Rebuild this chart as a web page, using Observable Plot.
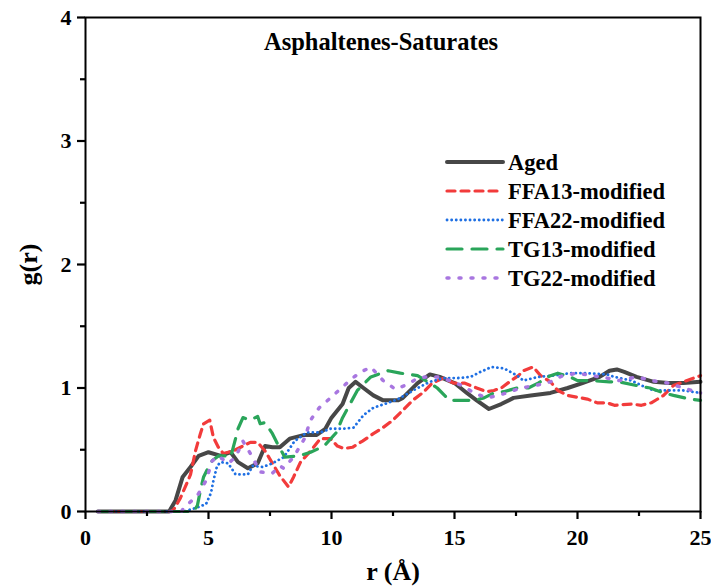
<!DOCTYPE html>
<html><head><meta charset="utf-8">
<script src="https://cdn.jsdelivr.net/npm/d3@7"></script>
<script src="https://cdn.jsdelivr.net/npm/@observablehq/plot@0.6"></script>
<style>
body{margin:0;background:#fff}
#wrap{position:relative;width:711px;height:588px}
#wrap svg{font-family:"Liberation Serif","Times New Roman",serif;font-weight:bold}
</style>
</head><body><div id="wrap"></div>
<script>
const title = "Asphaltenes-Saturates";
const xLabel = "r (Å)";
const yLabel = "g(r)";
const xTicks = [0, 5, 10, 15, 20, 25];
const xMinorTicks = [2.5, 7.5, 12.5, 17.5, 22.5];
const yTicks = [0, 1, 2, 3, 4];
const yMinorTicks = [0.5, 1.5, 2.5, 3.5];
const seriesNames = ["Aged", "FFA13-modified", "FFA22-modified", "TG13-modified", "TG22-modified"];

const aged = [[0.5,0],[3.4,0],[3.66,0.09],[3.95,0.28],[4.27,0.36],[4.6,0.45],[5.0,0.48],[5.5,0.45],[5.9,0.48],[6.2,0.40],[6.6,0.35],[7.0,0.39],[7.3,0.53],[7.6,0.52],[7.9,0.52],[8.3,0.59],[8.9,0.62],[9.4,0.62],[9.75,0.67],[10.0,0.76],[10.45,0.87],[10.7,1.0],[10.98,1.05],[11.3,1.0],[11.7,0.94],[12.1,0.9],[12.7,0.9],[12.9,0.92],[13.5,1.04],[14.0,1.11],[14.4,1.09],[15.0,1.04],[15.5,0.96],[15.9,0.9],[16.4,0.83],[16.9,0.87],[17.4,0.92],[18.1,0.94],[18.9,0.96],[19.6,1.0],[20.2,1.04],[20.9,1.09],[21.3,1.14],[21.6,1.15],[21.9,1.13],[22.4,1.09],[23.1,1.05],[23.7,1.04],[24.3,1.04],[25,1.05]];
const ffa13 = [[0.5,0],[3.5,0],[3.6,0.02],[3.86,0.11],[4.1,0.22],[4.27,0.3],[4.47,0.49],[4.67,0.63],[4.8,0.71],[5.05,0.74],[5.2,0.6],[5.4,0.52],[5.6,0.47],[6.0,0.49],[6.4,0.53],[6.7,0.56],[7.0,0.56],[7.3,0.49],[7.6,0.39],[7.9,0.29],[8.25,0.2],[8.46,0.28],[8.74,0.4],[9.15,0.49],[9.55,0.59],[9.96,0.59],[10.24,0.53],[10.5,0.51],[10.85,0.52],[11.26,0.57],[11.7,0.63],[12.1,0.68],[12.5,0.74],[12.9,0.82],[13.3,0.9],[13.7,0.96],[14.1,1.04],[14.55,1.08],[14.96,1.04],[15.4,1.04],[15.9,1.0],[16.3,0.97],[16.6,0.98],[16.9,1.0],[17.3,1.06],[17.6,1.1],[17.8,1.14],[18.2,1.17],[18.5,1.1],[18.9,1.05],[19.2,0.98],[19.6,0.94],[20.4,0.91],[20.8,0.88],[21.2,0.88],[21.5,0.86],[22.2,0.87],[22.6,0.86],[23.0,0.88],[23.5,0.94],[23.9,1.02],[24.3,1.05],[25,1.1]];
const ffa22 = [[0.5,0],[4.0,0],[4.5,0.03],[4.9,0.06],[5.1,0.15],[5.2,0.25],[5.35,0.37],[5.5,0.4],[5.8,0.39],[6.1,0.3],[6.6,0.3],[6.8,0.37],[7.2,0.36],[7.6,0.39],[8.06,0.44],[8.5,0.57],[9.0,0.64],[9.55,0.64],[9.96,0.67],[10.5,0.67],[10.9,0.68],[11.3,0.78],[11.7,0.84],[12.3,0.88],[12.7,0.91],[13.5,1.0],[14.0,1.05],[14.55,1.08],[15.1,1.08],[15.65,1.09],[16.05,1.13],[16.5,1.17],[17.0,1.16],[17.55,1.1],[17.8,1.06],[18.4,1.09],[19.0,1.1],[19.7,1.12],[20.4,1.12],[21.2,1.11],[21.5,1.09],[22.2,1.06],[22.6,1.02],[23.1,0.98],[23.7,0.98],[24.3,0.98],[25,0.96]];
const tg13 = [[0.5,0],[4.4,0],[4.55,0.05],[4.67,0.17],[4.8,0.28],[5.0,0.36],[5.15,0.41],[5.4,0.45],[5.7,0.45],[5.9,0.44],[6.1,0.59],[6.2,0.67],[6.4,0.76],[6.7,0.74],[7.0,0.77],[7.1,0.71],[7.3,0.72],[7.6,0.63],[7.8,0.55],[8.1,0.44],[8.7,0.45],[9.15,0.48],[9.7,0.53],[10.2,0.64],[10.45,0.76],[11.05,0.98],[11.6,1.09],[12.3,1.14],[12.8,1.12],[13.5,1.1],[14.0,1.04],[14.3,1.0],[14.8,0.9],[15.1,0.9],[15.8,0.9],[16.2,0.92],[16.6,0.96],[17.0,0.97],[17.55,1.0],[18.0,1.0],[18.4,1.04],[18.9,1.1],[19.2,1.12],[19.7,1.09],[20.0,1.06],[20.5,1.06],[21.3,1.05],[21.7,1.05],[22.4,1.02],[22.95,1.0],[23.5,0.96],[23.9,0.94],[24.6,0.91],[25,0.9]];
const tg22 = [[0.5,0],[3.9,0],[4.0,0.03],[4.55,0.13],[4.9,0.25],[5.15,0.41],[5.4,0.45],[5.8,0.39],[6.1,0.44],[6.4,0.57],[6.7,0.47],[7.1,0.32],[7.6,0.31],[7.9,0.37],[8.05,0.35],[8.46,0.44],[8.9,0.59],[9.15,0.74],[9.5,0.84],[9.96,0.92],[10.4,1.0],[10.85,1.08],[11.2,1.13],[11.6,1.17],[12.1,1.06],[12.6,0.99],[13.1,1.03],[13.5,1.08],[13.9,1.09],[14.3,1.09],[14.8,1.06],[15.3,1.02],[15.8,0.96],[16.3,0.92],[16.8,0.94],[17.1,0.96],[17.7,1.0],[18.3,1.02],[18.9,1.05],[19.4,1.1],[20.0,1.12],[20.6,1.1],[21.2,1.08],[21.7,1.06],[22.4,1.09],[23.0,1.06],[23.7,1.04],[24.3,1.0],[25,0.96]];

const seriesData = [aged, ffa13, ffa22, tg13, tg22];
const styles = [
  {stroke:"#474747", strokeWidth:4, strokeDasharray:null},
  {stroke:"#f23b3b", strokeWidth:3.2, strokeDasharray:"8 6"},
  {stroke:"#1e6fe3", strokeWidth:2.8, strokeDasharray:"0.1 4.5"},
  {stroke:"#2aa55a", strokeWidth:3.2, strokeDasharray:"15 10"},
  {stroke:"#a876e0", strokeWidth:3.5, strokeDasharray:"2 10"}
];

const font = {fontFamily:'"Liberation Serif","Times New Roman",serif', fontWeight:"bold"};

const lineMarks = seriesData.map((data, i) => Plot.line(data, {
  x: d => d[0], y: d => d[1],
  stroke: styles[i].stroke, strokeWidth: styles[i].strokeWidth,
  strokeDasharray: styles[i].strokeDasharray, strokeLinecap: "round", strokeLinejoin: "round"
}));

const chart = Plot.plot({
  width: 711, height: 588,
  marginLeft: 85, marginRight: 11, marginTop: 17, marginBottom: 77,
  x: {domain: [0, 25]},
  y: {domain: [0, 4]},
  style: {background: "#fff", color: "#000", fontFamily: font.fontFamily, fontWeight: "bold", fontSize: "22px"},
  marks: [
    ...lineMarks,
    Plot.frame({stroke: "#000", strokeWidth: 2}),
    Plot.axisX({ticks: xTicks, tickSize: 8, tickPadding: 10, tickFormat: d3.format("d"), label: null, strokeWidth: 2.2, fontSize: 22, fontWeight: "bold"}),
    Plot.axisX({ticks: xMinorTicks, tickSize: 5, tickFormat: () => "", label: null, strokeWidth: 2.2}),
    Plot.axisY({ticks: yTicks, tickSize: 8, tickPadding: 6, tickFormat: d3.format("d"), label: null, strokeWidth: 2.2, fontSize: 22, fontWeight: "bold"}),
    Plot.axisY({ticks: yMinorTicks, tickSize: 5, tickFormat: () => "", label: null, strokeWidth: 2.2}),
    Plot.text([title], {text: d => d, frameAnchor: "top", lineAnchor: "middle", textAnchor: "middle", dx: -12, dy: 25, fontSize: 24.5, fontWeight: "bold", fill: "#000"}),
    Plot.text([xLabel], {text: d => d, frameAnchor: "bottom", lineAnchor: "middle", textAnchor: "middle", dy: 60, fontSize: 26, fontWeight: "bold", fill: "#000"}),
    Plot.text([yLabel], {text: d => d, frameAnchor: "left", lineAnchor: "middle", textAnchor: "middle", dx: -57, rotate: -90, fontSize: 26, fontWeight: "bold", fill: "#000"})
  ]
});

const wrap = document.getElementById("wrap");
wrap.appendChild(chart);

// legend overlay
const leg = d3.select(wrap).append("svg")
  .attr("width", 711).attr("height", 588)
  .style("position", "absolute").style("left", "0px").style("top", "0px")
  .style("pointer-events", "none");
seriesNames.forEach((name, i) => {
  const y = 162 + i * 29;
  const s = styles[i];
  leg.append("line").attr("x1", 447).attr("x2", 503).attr("y1", y).attr("y2", y)
    .attr("stroke", s.stroke).attr("stroke-width", s.strokeWidth)
    .attr("stroke-dasharray", s.strokeDasharray).attr("stroke-linecap", "round");
  leg.append("text").attr("x", 508).attr("y", y).attr("dy", "0.35em")
    .attr("font-size", 22.5).attr("font-weight", "bold").attr("fill", "#000")
    .attr("font-family", font.fontFamily).text(name);
});
</script></body></html>
